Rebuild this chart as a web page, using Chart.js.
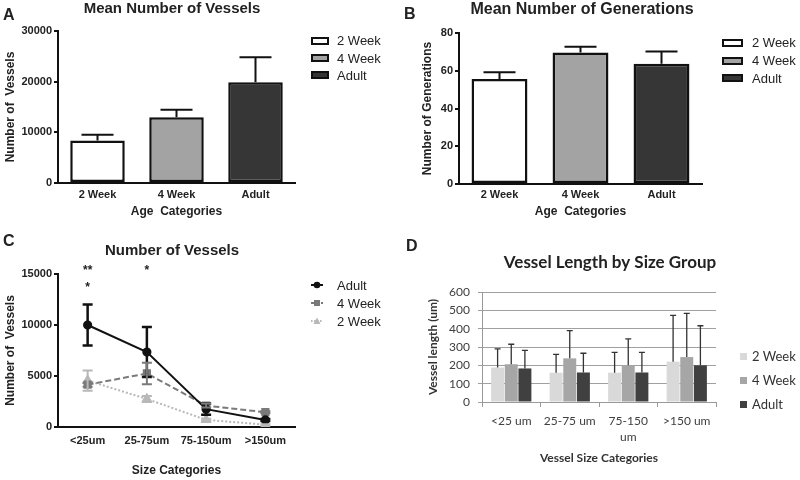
<!DOCTYPE html>
<html lang="en">
<head>
<meta charset="UTF-8">
<title>Vessel Figure</title>
<script src="https://cdn.jsdelivr.net/npm/chart.js"></script>
<style>
  body { margin:0; width:800px; height:480px; overflow:hidden; background:#fff; position:relative;
         font-family:"Liberation Sans", Arial, sans-serif; color:#222; }
  canvas { position:absolute; }
  .panel { position:absolute; font-weight:bold; font-size:16px; line-height:16px; z-index:2; }
  .legend { position:absolute; font-size:13px; z-index:2; }
  .legend .row { display:flex; align-items:center; white-space:nowrap; }
  .box { box-sizing:border-box; display:inline-block; height:8px; border:2px solid #111; }
  .legend.excel { font-family:Lato, sans-serif; color:#333; }
</style>
</head>
<body>
<div class="panel" style="left:3px;top:7px">A</div>
<div class="panel" style="left:404px;top:6px">B</div>
<div class="panel" style="left:3px;top:233px">C</div>
<div class="panel" style="left:406px;top:238px">D</div>

<canvas id="chartA" width="344" height="225" style="left:0;top:0"></canvas>
<canvas id="chartB" width="364" height="225" style="left:400px;top:0"></canvas>
<canvas id="chartC" width="344" height="250" style="left:0;top:230px"></canvas>
<canvas id="chartD" width="420" height="250" style="left:400px;top:230px"></canvas>

<div class="legend" id="legendA" style="left:311px;top:32px"></div>
<div class="legend" id="legendB" style="left:722px;top:34px"></div>
<div class="legend" id="legendC" style="left:309px;top:276px"></div>
<div class="legend excel" id="legendD" style="left:740px;top:344px"></div>

<script>
// ---- data ----
const ageGroups = ['2 Week', '4 Week', 'Adult'];
const vesselMeans = [8400, 13000, 19900];
const vesselErr = [1100, 1450, 4900];
const vesselTicks = [0, 10000, 20000, 30000];

const generationMeans = [55.6, 69.7, 63.7];
const generationErr = [3.6, 3.0, 6.5];
const generationTicks = [0, 20, 40, 60, 80];

const sizeCats = ['<25um', '25-75um', '75-150um', '>150um'];
const adultCounts = [10000, 7350, 1750, 690];
const adultCountErr = [2000, 2450, 550, 100];
const week4Counts = [4150, 5250, 2100, 1450];
const week4CountErr = [200, 1050, 200, 100];
const week2Counts = [4550, 2750, 700, 230];
const week2CountErr = [1000, 300, 100, 50];
const countTicks = [0, 5000, 10000, 15000];
const sigMarks = [['**', '*'], ['*'], [], []];

const lengthCats = ['<25 um', '25-75 um', ['75-150', 'um'], '>150 um'];
const week2Length = [188, 160, 160, 220];
const week2LengthErr = [102, 100, 111, 252];
const week4Length = [206, 238, 201, 245];
const week4LengthErr = [109, 151, 143, 238];
const adultLength = [183, 161, 161, 200];
const adultLengthErr = [99, 105, 110, 216];
const lengthTicks = [0, 100, 200, 300, 400, 500, 600];

const prismFills = ['#ffffff', '#a3a3a3', '#363636'];
const excelFills = ['#d9d9d9', '#a6a6a6', '#404040'];

Chart.defaults.color = '#222';
Chart.defaults.font.family = '"Liberation Sans", Arial, sans-serif';
Chart.defaults.animation = false;

// error bars drawn from the y scale of each chart
const errorBars = {
  id: 'errorBars',
  afterDatasetsDraw(chart) {
    const ctx = chart.ctx;
    const y = chart.scales.y;
    chart.data.datasets.forEach((ds, di) => {
      if (!ds.errors) return;
      const meta = chart.getDatasetMeta(di);
      ctx.save();
      ctx.strokeStyle = ds.errorColor || '#111';
      ctx.lineWidth = ds.errorWidth || 2;
      meta.data.forEach((el, i) => {
        const v = ds.data[i], e = ds.errors[i];
        const top = y.getPixelForValue(v + e);
        const bot = ds.errorBoth ? y.getPixelForValue(v - e) : el.y;
        const h = ds.capWidth / 2;
        ctx.beginPath();
        ctx.moveTo(el.x, bot); ctx.lineTo(el.x, top);
        ctx.moveTo(el.x - h, top); ctx.lineTo(el.x + h, top);
        if (ds.errorBoth) { ctx.moveTo(el.x - h, bot); ctx.lineTo(el.x + h, bot); }
        ctx.stroke();
      });
      ctx.restore();
    });
  }
};

const sigStars = {
  id: 'sigStars',
  afterDraw(chart) {
    const {ctx, chartArea, scales: {x}} = chart;
    ctx.save();
    ctx.font = 'bold 12px "Liberation Sans"';
    ctx.fillStyle = '#222';
    ctx.textAlign = 'center';
    ctx.textBaseline = 'middle';
    sigMarks.forEach((marks, i) => {
      marks.forEach((m, j) => ctx.fillText(m, x.getPixelForValue(i), chartArea.top - 3 + j * 16.5));
    });
    ctx.restore();
  }
};

const boldFont = size => ({ family: '"Liberation Sans", Arial, sans-serif', weight: 'bold', size: size });

// empty right-hand axis that keeps room for the legend so the title stays centred like the original
function spacer(width) {
  return {
    type: 'linear', position: 'right', display: true,
    afterFit: s => { s.width = width; },
    ticks: { display: false }, grid: { display: false }, border: { display: false }
  };
}

function prismY(ticks, width, title, titlePad) {
  return {
    min: ticks[0], max: ticks[ticks.length - 1],
    afterFit: s => { s.width = width; },
    ticks: { stepSize: ticks[1] - ticks[0], font: boldFont(11), padding: 2, color: '#222', callback: v => String(v) },
    grid: { drawOnChartArea: false, drawTicks: true, tickLength: 4, lineWidth: 2, color: '#111' },
    border: { display: true, width: 2, color: '#111' },
    title: { display: true, text: title, font: boldFont(12), padding: { top: titlePad, bottom: 0 }, color: '#222' }
  };
}

function prismX(height, title, tickPad, titlePad) {
  return {
    afterFit: s => { s.height = height; },
    ticks: { font: boldFont(11), padding: tickPad, color: '#222' },
    grid: { display: false, drawTicks: false },
    border: { display: true, width: 2, color: '#111' },
    title: { display: true, text: title, font: boldFont(12), padding: { top: 0, bottom: titlePad }, color: '#222' }
  };
}

function prismBar(id, values, errs, ticks, title, titleSize, yTitle, yWidth, yTitlePad, xHeight, tickPad, rightRoom, titlePad) {
  new Chart(document.getElementById(id), {
    type: 'bar',
    data: {
      labels: ageGroups,
      datasets: [{
        data: values,
        errors: errs,
        capWidth: 32,
        errorWidth: 2,
        backgroundColor: prismFills,
        borderColor: '#111',
        borderWidth: 2.5,
        borderSkipped: false,
        barPercentage: 0.69,
        categoryPercentage: 1
      }]
    },
    options: {
      responsive: false,
      layout: { padding: 0 },
      plugins: {
        legend: { display: false },
        tooltip: { enabled: false },
        title: { display: true, text: title, font: boldFont(titleSize), color: '#222', padding: titlePad }
      },
      scales: {
        x: prismX(xHeight, 'Age  Categories', tickPad, 5.8),
        y: prismY(ticks, yWidth, yTitle, yTitlePad),
        room: spacer(rightRoom)
      }
    },
    plugins: [errorBars]
  });
}

prismBar('chartA', vesselMeans, vesselErr, vesselTicks, 'Mean Number of Vessels', 15, 'Number of  Vessels',
  58, 3, 42, 5, 49, { top: 0, bottom: 13 });
prismBar('chartB', generationMeans, generationErr, generationTicks, 'Mean Number of Generations', 16, 'Number of Generations',
  59, 20, 41, 4, 62, { top: 0.4, bottom: 13.4 });

// panel C
new Chart(document.getElementById('chartC'), {
  type: 'line',
  data: {
    labels: sizeCats,
    datasets: [
      { label: 'Adult', data: adultCounts, errors: adultCountErr, errorBoth: true, capWidth: 10, errorWidth: 2.5,
        errorColor: '#111', borderColor: '#111', backgroundColor: '#111', borderWidth: 2,
        pointStyle: 'circle', pointRadius: 3.6 },
      { label: '4 Week', data: week4Counts, errors: week4CountErr, errorBoth: true, capWidth: 10, errorWidth: 2,
        errorColor: '#7a7a7a', borderColor: '#7a7a7a', backgroundColor: '#7a7a7a', borderWidth: 2,
        borderDash: [6, 3], pointStyle: 'rect', pointRadius: 4.4 },
      { label: '2 Week', data: week2Counts, errors: week2CountErr, errorBoth: true, capWidth: 10, errorWidth: 2,
        errorColor: '#b8b8b8', borderColor: '#b8b8b8', backgroundColor: '#b8b8b8', borderWidth: 2,
        borderDash: [2, 2], pointStyle: 'triangle', pointRadius: 4.5 }
    ]
  },
  options: {
    responsive: false,
    layout: { padding: 0 },
    plugins: {
      legend: { display: false },
      tooltip: { enabled: false },
      title: { display: true, text: 'Number of Vessels', font: boldFont(15), color: '#222', padding: { top: 12, bottom: 14 } }
    },
    scales: {
      x: Object.assign(prismX(53, 'Size Categories', 7, 1.8), { offset: true }),
      y: prismY(countTicks, 58, 'Number of  Vessels', 3),
      room: spacer(49)
    }
  },
  plugins: [errorBars, sigStars]
});

// panel D
const latoFont = (size, weight) => ({ family: 'Lato, sans-serif', size: size, weight: weight || 'normal', lineHeight: 1.35 });
const lengthSeries = [
  ['2 Week', week2Length, week2LengthErr],
  ['4 Week', week4Length, week4LengthErr],
  ['Adult', adultLength, adultLengthErr]
];
new Chart(document.getElementById('chartD'), {
  type: 'bar',
  data: {
    labels: lengthCats,
    datasets: lengthSeries.map((s, i) => ({
      label: s[0], data: s[1], errors: s[2], capWidth: 6, errorWidth: 1.3, errorColor: '#333',
      backgroundColor: excelFills[i], borderWidth: 0,
      barPercentage: 0.95, categoryPercentage: 0.7
    }))
  },
  options: {
    responsive: false,
    layout: { padding: 0 },
    plugins: {
      legend: { display: false },
      tooltip: { enabled: false },
      title: { display: true, text: 'Vessel Length by Size Group', font: Object.assign(latoFont(17, 'bold'), { lineHeight: 1.2 }),
               color: '#222', padding: { top: 22.8, bottom: 18.8 } }
    },
    scales: {
      x: {
        afterFit: s => { s.height = 78; },
        ticks: { font: latoFont(12), color: '#404040', padding: 6 },
        grid: { offset: true, drawOnChartArea: false, drawTicks: true, tickLength: 5, color: '#999' },
        border: { display: true, color: '#999' },
        title: { display: true, text: 'Vessel Size Categories', font: latoFont(12, 'bold'), color: '#333',
                 padding: { top: 0, bottom: 13.9 } }
      },
      y: {
        min: lengthTicks[0], max: lengthTicks[lengthTicks.length - 1],
        afterFit: s => { s.width = 82; },
        ticks: { stepSize: lengthTicks[1] - lengthTicks[0], autoSkip: false, font: latoFont(12), color: '#404040', padding: 8 },
        grid: { color: '#a0a0a0', tickLength: 4 },
        border: { display: true, color: '#999' },
        title: { display: true, text: 'Vessel length (um)', font: latoFont(12, 'bold'), color: '#333',
                 padding: { top: 24.9, bottom: 0 } }
      },
      room: spacer(104)
    }
  },
  plugins: [errorBars]
});

// legends
function boxLegend(id, boxW, rowH) {
  const el = document.getElementById(id);
  ageGroups.forEach((g, i) => {
    const row = document.createElement('div');
    row.className = 'row';
    row.style.height = rowH + 'px';
    row.innerHTML = '<span class="box" style="width:' + boxW + 'px;background:' + prismFills[i] +
      ';margin-right:' + (id === 'legendA' ? 8 : 9) + 'px"></span>' + g;
    el.appendChild(row);
  });
}
boxLegend('legendA', 18, 17.4);
boxLegend('legendB', 21, 17.8);

const lineKeys = [
  ['Adult', '#111', '', '<circle cx="8" cy="5" r="3.3" fill="#111"/>'],
  ['4 Week', '#7a7a7a', '3,2', '<rect x="5" y="2" width="6" height="6" fill="#7a7a7a"/>'],
  ['2 Week', '#b8b8b8', '1.5,1.5', '<polygon points="8,1.5 11.5,8 4.5,8" fill="#b8b8b8"/>']
];
const legC = document.getElementById('legendC');
lineKeys.forEach(k => {
  const row = document.createElement('div');
  row.className = 'row';
  row.style.height = '18px';
  row.innerHTML = '<svg width="16" height="10" style="margin-right:12px"><line x1="2" y1="5" x2="14" y2="5" stroke="' + k[1] +
    '" stroke-width="2" stroke-dasharray="' + k[2] + '"/>' + k[3] + '</svg>' + k[0];
  legC.appendChild(row);
});

const legD = document.getElementById('legendD');
lengthSeries.forEach((s, i) => {
  const row = document.createElement('div');
  row.className = 'row';
  row.style.height = '24px';
  row.innerHTML = '<span style="display:inline-block;width:7px;height:7px;margin-right:5px;background:' + excelFills[i] + '"></span>' + s[0];
  legD.appendChild(row);
});
</script>
</body>
</html>
